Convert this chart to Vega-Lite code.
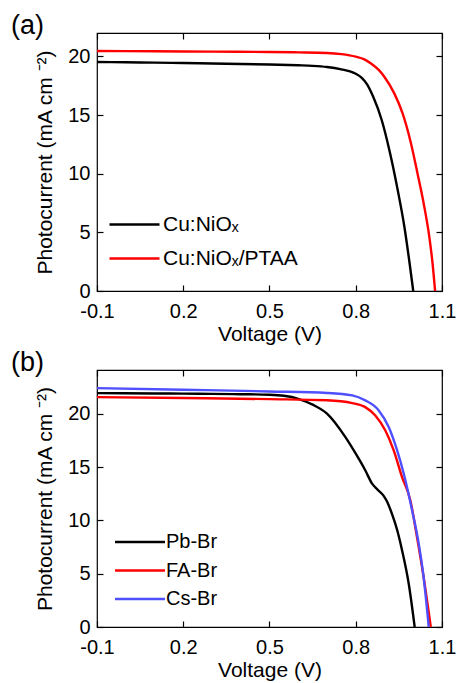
{
  "$schema": "https://vega.github.io/schema/vega-lite/v6.json",
  "padding": {"left": 10, "top": 11, "right": 0, "bottom": 0},
  "config": {
    "font": "Liberation Sans",
    "view": {"stroke": "#000000", "strokeWidth": 1.2},
    "axis": {
      "grid": false,
      "domain": false,
      "tickColor": "#000000",
      "tickWidth": 1.2,
      "labelColor": "#000000",
      "titleColor": "#000000",
      "labelFontSize": 20,
      "titleFontSize": 21,
      "titleFontWeight": "normal",
      "labelFlush": false
    },
    "legend": {
      "symbolType": "M-5,0H5",
      "symbolSize": 100,
      "symbolStrokeWidth": 2.5,
      "labelFontSize": 21,
      "labelColor": "#000000",
      "title": null,
      "padding": 0
    },
    "title": {"font": "Liberation Sans", "fontWeight": "normal", "fontSize": 27, "color": "#000000"}
  },
  "datasets": {
    "a": [
      {"V": -0.1, "J": 19.53, "s": "Cu:NiOₓ"},
      {"V": 0.0, "J": 19.5, "s": "Cu:NiOₓ"},
      {"V": 0.1, "J": 19.47, "s": "Cu:NiOₓ"},
      {"V": 0.2, "J": 19.44, "s": "Cu:NiOₓ"},
      {"V": 0.3, "J": 19.4, "s": "Cu:NiOₓ"},
      {"V": 0.4, "J": 19.36, "s": "Cu:NiOₓ"},
      {"V": 0.5, "J": 19.32, "s": "Cu:NiOₓ"},
      {"V": 0.6, "J": 19.25, "s": "Cu:NiOₓ"},
      {"V": 0.65, "J": 19.2, "s": "Cu:NiOₓ"},
      {"V": 0.7, "J": 19.1, "s": "Cu:NiOₓ"},
      {"V": 0.75, "J": 18.9, "s": "Cu:NiOₓ"},
      {"V": 0.78, "J": 18.72, "s": "Cu:NiOₓ"},
      {"V": 0.8, "J": 18.52, "s": "Cu:NiOₓ"},
      {"V": 0.82, "J": 18.2, "s": "Cu:NiOₓ"},
      {"V": 0.84, "J": 17.6, "s": "Cu:NiOₓ"},
      {"V": 0.86, "J": 16.6, "s": "Cu:NiOₓ"},
      {"V": 0.89, "J": 14.6, "s": "Cu:NiOₓ"},
      {"V": 0.917, "J": 12.0, "s": "Cu:NiOₓ"},
      {"V": 0.946, "J": 8.6, "s": "Cu:NiOₓ"},
      {"V": 0.969, "J": 5.5, "s": "Cu:NiOₓ"},
      {"V": 0.986, "J": 2.6, "s": "Cu:NiOₓ"},
      {"V": 1.0, "J": 0, "s": "Cu:NiOₓ"},
      {"V": -0.1, "J": 20.47, "s": "Cu:NiOₓ/PTAA"},
      {"V": 0.1, "J": 20.44, "s": "Cu:NiOₓ/PTAA"},
      {"V": 0.3, "J": 20.41, "s": "Cu:NiOₓ/PTAA"},
      {"V": 0.5, "J": 20.38, "s": "Cu:NiOₓ/PTAA"},
      {"V": 0.6, "J": 20.35, "s": "Cu:NiOₓ/PTAA"},
      {"V": 0.7, "J": 20.3, "s": "Cu:NiOₓ/PTAA"},
      {"V": 0.75, "J": 20.2, "s": "Cu:NiOₓ/PTAA"},
      {"V": 0.8, "J": 19.98, "s": "Cu:NiOₓ/PTAA"},
      {"V": 0.83, "J": 19.75, "s": "Cu:NiOₓ/PTAA"},
      {"V": 0.853, "J": 19.4, "s": "Cu:NiOₓ/PTAA"},
      {"V": 0.88, "J": 18.85, "s": "Cu:NiOₓ/PTAA"},
      {"V": 0.9, "J": 18.25, "s": "Cu:NiOₓ/PTAA"},
      {"V": 0.934, "J": 16.85, "s": "Cu:NiOₓ/PTAA"},
      {"V": 0.963, "J": 15.15, "s": "Cu:NiOₓ/PTAA"},
      {"V": 0.992, "J": 12.6, "s": "Cu:NiOₓ/PTAA"},
      {"V": 1.015, "J": 10.0, "s": "Cu:NiOₓ/PTAA"},
      {"V": 1.036, "J": 7.5, "s": "Cu:NiOₓ/PTAA"},
      {"V": 1.056, "J": 4.6, "s": "Cu:NiOₓ/PTAA"},
      {"V": 1.067, "J": 2.4, "s": "Cu:NiOₓ/PTAA"},
      {"V": 1.076, "J": 0, "s": "Cu:NiOₓ/PTAA"}
    ],
    "b": [
      {"V": -0.1, "J": 21.93, "s": "Pb-Br"},
      {"V": 0.1, "J": 21.9, "s": "Pb-Br"},
      {"V": 0.2, "J": 21.88, "s": "Pb-Br"},
      {"V": 0.3, "J": 21.86, "s": "Pb-Br"},
      {"V": 0.4, "J": 21.83, "s": "Pb-Br"},
      {"V": 0.5, "J": 21.78, "s": "Pb-Br"},
      {"V": 0.55, "J": 21.68, "s": "Pb-Br"},
      {"V": 0.6, "J": 21.4, "s": "Pb-Br"},
      {"V": 0.65, "J": 20.85, "s": "Pb-Br"},
      {"V": 0.7, "J": 20.0, "s": "Pb-Br"},
      {"V": 0.764, "J": 17.8, "s": "Pb-Br"},
      {"V": 0.8, "J": 16.25, "s": "Pb-Br"},
      {"V": 0.833, "J": 14.7, "s": "Pb-Br"},
      {"V": 0.857, "J": 13.44, "s": "Pb-Br"},
      {"V": 0.875, "J": 12.9, "s": "Pb-Br"},
      {"V": 0.897, "J": 12.3, "s": "Pb-Br"},
      {"V": 0.91, "J": 11.7, "s": "Pb-Br"},
      {"V": 0.926, "J": 10.6, "s": "Pb-Br"},
      {"V": 0.945, "J": 9.0, "s": "Pb-Br"},
      {"V": 0.961, "J": 7.2, "s": "Pb-Br"},
      {"V": 0.984, "J": 4.1, "s": "Pb-Br"},
      {"V": 1.005, "J": 0, "s": "Pb-Br"},
      {"V": -0.1, "J": 21.56, "s": "FA-Br"},
      {"V": 0.2, "J": 21.47, "s": "FA-Br"},
      {"V": 0.5, "J": 21.37, "s": "FA-Br"},
      {"V": 0.7, "J": 21.27, "s": "FA-Br"},
      {"V": 0.788, "J": 21.0, "s": "FA-Br"},
      {"V": 0.833, "J": 20.62, "s": "FA-Br"},
      {"V": 0.868, "J": 19.84, "s": "FA-Br"},
      {"V": 0.903, "J": 18.43, "s": "FA-Br"},
      {"V": 0.932, "J": 16.56, "s": "FA-Br"},
      {"V": 0.961, "J": 14.06, "s": "FA-Br"},
      {"V": 0.99, "J": 11.87, "s": "FA-Br"},
      {"V": 1.013, "J": 8.43, "s": "FA-Br"},
      {"V": 1.036, "J": 4.69, "s": "FA-Br"},
      {"V": 1.061, "J": 0, "s": "FA-Br"},
      {"V": -0.1, "J": 22.4, "s": "Cs-Br"},
      {"V": 0.2, "J": 22.25, "s": "Cs-Br"},
      {"V": 0.5, "J": 22.09, "s": "Cs-Br"},
      {"V": 0.7, "J": 21.95, "s": "Cs-Br"},
      {"V": 0.788, "J": 21.72, "s": "Cs-Br"},
      {"V": 0.833, "J": 21.25, "s": "Cs-Br"},
      {"V": 0.88, "J": 20.31, "s": "Cs-Br"},
      {"V": 0.915, "J": 18.74, "s": "Cs-Br"},
      {"V": 0.944, "J": 16.56, "s": "Cs-Br"},
      {"V": 0.967, "J": 14.37, "s": "Cs-Br"},
      {"V": 0.996, "J": 10.94, "s": "Cs-Br"},
      {"V": 1.019, "J": 7.82, "s": "Cs-Br"},
      {"V": 1.036, "J": 4.69, "s": "Cs-Br"},
      {"V": 1.054, "J": 0, "s": "Cs-Br"}
    ]
  },
  "resolve": {"scale": {"color": "independent"}, "legend": {"color": "independent"}},
  "spacing": 3,
  "vconcat": [
    {
      "title": {"text": "(a)", "anchor": "start", "frame": "group", "dx": -86, "offset": -8},
      "width": 345,
      "height": 258,
      "data": {"name": "a"},
      "resolve": {"axis": {"x": "independent", "y": "independent"}},
      "layer": [
        {
          "mark": {"type": "line", "strokeWidth": 2.4, "interpolate": "monotone"},
          "encoding": {
            "x": {"field": "V", "type": "quantitative", "scale": {"domain": [-0.1, 1.1], "nice": false, "zero": false},
                  "axis": {"orient": "bottom", "title": "Voltage (V)", "values": [-0.1, 0.2, 0.5, 0.8, 1.1], "format": ".1f", "labelExpr": "replace(datum.label, '−', '-')", "ticks": false, "labelPadding": 10, "titlePadding": 2}},
            "y": {"field": "J", "type": "quantitative", "scale": {"domain": [0, 22], "nice": false},
                  "axis": {"orient": "left", "title": "Photocurrent (mA cm ⁻²)", "values": [0, 5, 10, 15, 20], "ticks": false, "labelPadding": 7, "titlePadding": 12}},
            "color": {"field": "s", "type": "nominal",
                      "scale": {"domain": ["Cu:NiOₓ", "Cu:NiOₓ/PTAA"], "range": ["#000000", "#ff0000"]},
                      "legend": {"orient": "none", "legendX": 27, "legendY": 181, "rowPadding": 12, "labelOffset": 18}}
          }
        },
        {
          "mark": {"type": "point", "opacity": 0},
          "encoding": {
            "x": {"field": "V", "type": "quantitative", "axis": {"orient": "top", "title": null, "labels": false, "tickSize": 6, "offset": -6, "values": [-0.1, 0.2, 0.5, 0.8, 1.1]}},
            "y": {"field": "J", "type": "quantitative", "axis": {"orient": "right", "title": null, "labels": false, "tickSize": 6, "offset": -6, "values": [0, 5, 10, 15, 20]}}
          }
        },
        {
          "mark": {"type": "point", "opacity": 0},
          "encoding": {
            "x": {"field": "V", "type": "quantitative", "axis": {"orient": "bottom", "title": null, "labels": false, "tickSize": 6, "offset": -6, "values": [-0.1, 0.2, 0.5, 0.8, 1.1]}},
            "y": {"field": "J", "type": "quantitative", "axis": {"orient": "left", "title": null, "labels": false, "tickSize": 6, "offset": -6, "values": [0, 5, 10, 15, 20]}}
          }
        }
      ]
    },
    {
      "title": {"text": "(b)", "anchor": "start", "frame": "group", "dx": -86, "offset": -8},
      "width": 345,
      "height": 257,
      "data": {"name": "b"},
      "resolve": {"axis": {"x": "independent", "y": "independent"}},
      "layer": [
        {
          "mark": {"type": "line", "strokeWidth": 2.4, "interpolate": "monotone"},
          "encoding": {
            "x": {"field": "V", "type": "quantitative", "scale": {"domain": [-0.1, 1.1], "nice": false, "zero": false},
                  "axis": {"orient": "bottom", "title": "Voltage (V)", "values": [-0.1, 0.2, 0.5, 0.8, 1.1], "format": ".1f", "labelExpr": "replace(datum.label, '−', '-')", "ticks": false, "labelPadding": 10, "titlePadding": 2}},
            "y": {"field": "J", "type": "quantitative", "scale": {"domain": [0, 24.1], "nice": false},
                  "axis": {"orient": "left", "title": "Photocurrent (mA cm ⁻²)", "values": [0, 5, 10, 15, 20], "ticks": false, "labelPadding": 7, "titlePadding": 12}},
            "color": {"field": "s", "type": "nominal",
                      "scale": {"domain": ["Pb-Br", "FA-Br", "Cs-Br"], "range": ["#000000", "#ff0000", "#4f4fff"]},
                      "legend": {"orient": "none", "legendX": 33, "legendY": 162, "rowPadding": 8.5, "labelFontSize": 20, "labelOffset": 16}}
          }
        },
        {
          "mark": {"type": "point", "opacity": 0},
          "encoding": {
            "x": {"field": "V", "type": "quantitative", "axis": {"orient": "top", "title": null, "labels": false, "tickSize": 6, "offset": -6, "values": [-0.1, 0.2, 0.5, 0.8, 1.1]}},
            "y": {"field": "J", "type": "quantitative", "axis": {"orient": "right", "title": null, "labels": false, "tickSize": 6, "offset": -6, "values": [0, 5, 10, 15, 20]}}
          }
        },
        {
          "mark": {"type": "point", "opacity": 0},
          "encoding": {
            "x": {"field": "V", "type": "quantitative", "axis": {"orient": "bottom", "title": null, "labels": false, "tickSize": 6, "offset": -6, "values": [-0.1, 0.2, 0.5, 0.8, 1.1]}},
            "y": {"field": "J", "type": "quantitative", "axis": {"orient": "left", "title": null, "labels": false, "tickSize": 6, "offset": -6, "values": [0, 5, 10, 15, 20]}}
          }
        }
      ]
    }
  ]
}
